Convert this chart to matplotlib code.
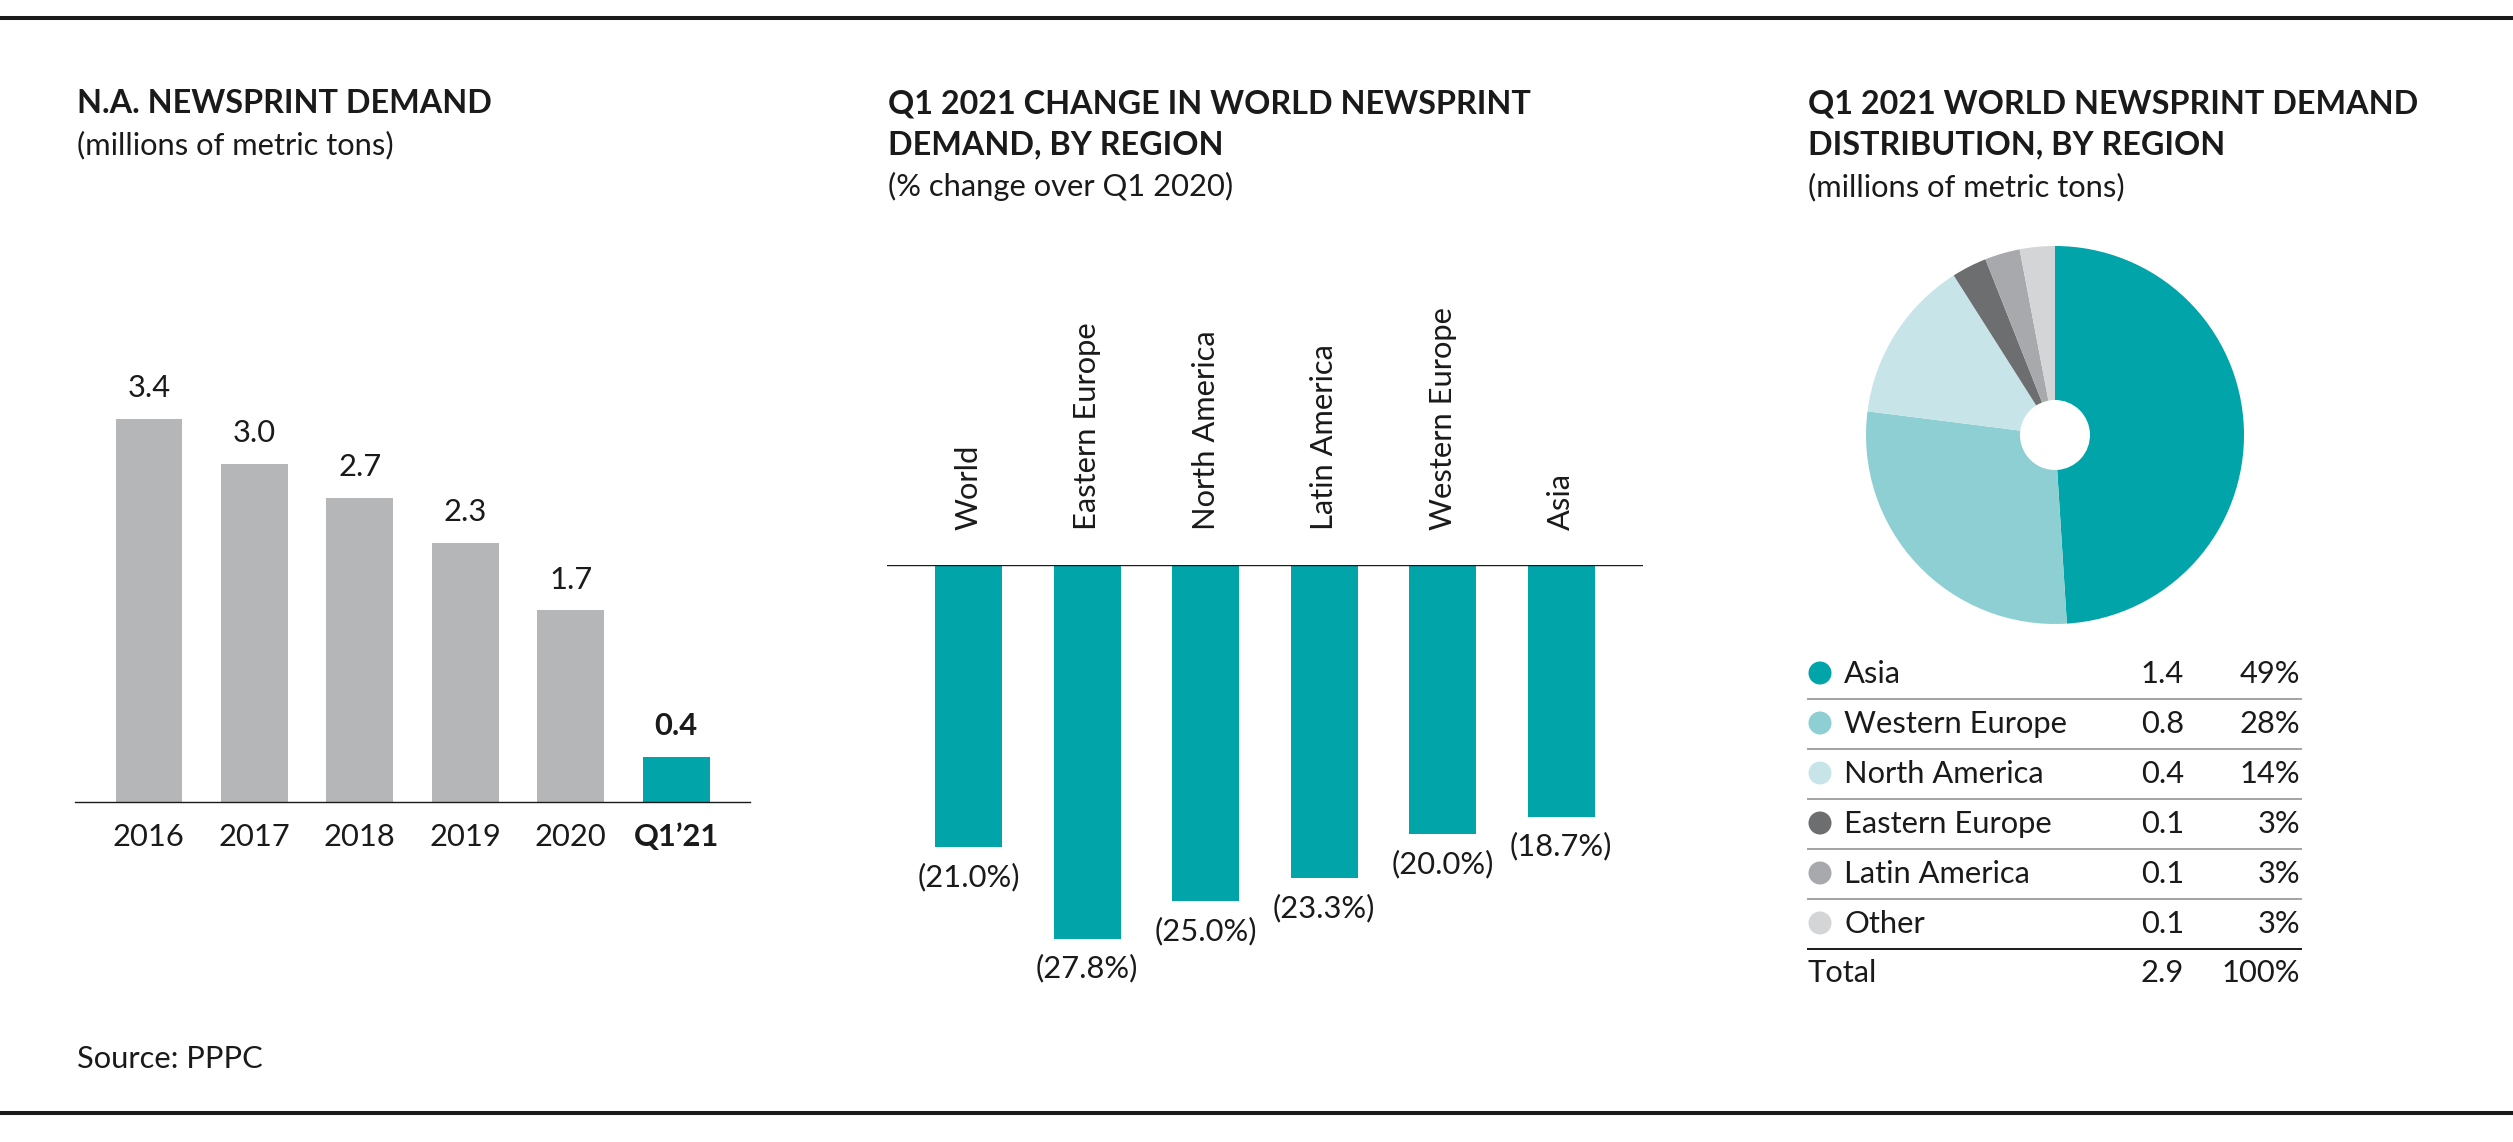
import matplotlib
matplotlib.use("Agg")
import matplotlib.pyplot as plt
from matplotlib.patches import Circle

plt.rcParams["font.family"] = ["Lato", "DejaVu Sans"]

# data
years = ["2016", "2017", "2018", "2019", "2020", "Q1\u201921"]
na_demand = [3.4, 3.0, 2.7, 2.3, 1.7, 0.4]

regions_chg = ["World", "Eastern Europe", "North America", "Latin America",
               "Western Europe", "Asia"]
pct_change = [-21.0, -27.8, -25.0, -23.3, -20.0, -18.7]

dist_regions = ["Asia", "Western Europe", "North America", "Eastern Europe",
                "Latin America", "Other"]
dist_tons = ["1.4", "0.8", "0.4", "0.1", "0.1", "0.1"]
dist_pct = [49, 28, 14, 3, 3, 3]
total_tons = "2.9"
total_pct = "100%"

TEAL = "#00A4A9"
GREY_BAR = "#B5B6B8"
TXT = "#1a1a1a"
pie_colors = [TEAL, "#8ECFD4", "#C7E5E9", "#6D6E70", "#A7A9AC", "#D4D5D6"]

W, H = 2513, 1142
fig = plt.figure(figsize=(W / 100, H / 100), dpi=100)


def box(left, top, right, bottom):
    return [left / W, 1 - bottom / H, (right - left) / W, (bottom - top) / H]


# overlay in pixel coordinates for rules, titles and table
ov = fig.add_axes([0, 0, 1, 1])
ov.set_xlim(0, W)
ov.set_ylim(H, 0)
ov.axis("off")

ov.plot([0, W], [18, 18], color=TXT, lw=2.9, solid_capstyle="butt")
ov.plot([0, W], [1113, 1113], color=TXT, lw=2.9, solid_capstyle="butt")

tfs = 23.3
sfs = 22.2
ov.text(77, 113, "N.A. NEWSPRINT DEMAND", fontsize=tfs, fontweight="bold", color=TXT)
ov.text(77, 154, "(millions of metric tons)", fontsize=sfs, color=TXT)

ov.text(888, 113, "Q1 2021 CHANGE IN WORLD NEWSPRINT", fontsize=tfs, fontweight="bold", color=TXT)
ov.text(888, 154, "DEMAND, BY REGION", fontsize=tfs, fontweight="bold", color=TXT)
ov.text(888, 196, "(% change over Q1 2020)", fontsize=sfs, color=TXT)

ov.text(1808, 113, "Q1 2021 WORLD NEWSPRINT DEMAND", fontsize=tfs, fontweight="bold", color=TXT)
ov.text(1808, 154, "DISTRIBUTION, BY REGION", fontsize=tfs, fontweight="bold", color=TXT)
ov.text(1808, 196, "(millions of metric tons)", fontsize=sfs, color=TXT)

ov.text(77, 1068, "Source: PPPC", fontsize=sfs, color=TXT)

# --- left: N.A. demand bars
ax1 = fig.add_axes(box(75, 802 - 4.0 * 112.7, 750, 802))
ax1.set_facecolor("none")
xs = range(len(years))
cols = [GREY_BAR] * (len(years) - 1) + [TEAL]
ax1.bar(xs, na_demand, width=0.632, color=cols)
ax1.set_xlim(-0.70, 5.70)
ax1.set_ylim(0, 4.0)
for s in ["top", "right", "left"]:
    ax1.spines[s].set_visible(False)
ax1.spines["bottom"].set_linewidth(1.0)
ax1.spines["bottom"].set_color(TXT)
ax1.set_yticks([])
ax1.set_xticks(list(xs))
ax1.set_xticklabels(years, fontsize=sfs, color=TXT)
ax1.tick_params(axis="x", length=0, pad=15)
ax1.get_xticklabels()[-1].set_fontweight("bold")
for i, v in enumerate(na_demand):
    ax1.annotate(f"{v:.1f}", (i, v), xytext=(0, 12), textcoords="offset points",
                 ha="center", va="bottom", fontsize=sfs, color=TXT,
                 fontweight="bold" if i == len(na_demand) - 1 else "normal")

# --- middle: % change bars
ax2 = fig.add_axes(box(887, 565, 1643, 565 + 32 * 13.45))
ax2.set_facecolor("none")
xr = range(len(regions_chg))
ax2.bar(xr, pct_change, width=0.563, color=TEAL)
ax2.set_xlim(-0.69, 5.69)
ax2.set_ylim(-32, 0)
ax2.axis("off")
ax2.axhline(0, color=TXT, lw=1.0)
for i, (name, v) in enumerate(zip(regions_chg, pct_change)):
    ax2.annotate(name, (i, 0), xytext=(0, 25), textcoords="offset points",
                 rotation=90, ha="center", va="bottom", fontsize=sfs, color=TXT,
                 annotation_clip=False)
    ax2.annotate(f"({abs(v):.1f}%)", (i, v), xytext=(0, -11), textcoords="offset points",
                 ha="center", va="top", fontsize=sfs, color=TXT, annotation_clip=False)

# --- right: distribution donut
ax3 = fig.add_axes(box(1855, 235, 2255, 635))
ax3.set_facecolor("none")
ax3.pie(dist_pct, colors=pie_colors, startangle=90, counterclock=False,
        radius=189, wedgeprops=dict(width=154, linewidth=0))
ax3.set_xlim(-200, 200)
ax3.set_ylim(-200, 200)
ax3.set_aspect("equal")
ax3.axis("off")

# table below donut
for i, (name, t, p) in enumerate(zip(dist_regions, dist_tons, dist_pct)):
    yb = 683 + i * 50
    ov.add_patch(Circle((1820, yb - 10), 11.5, color=pie_colors[i], lw=0))
    ov.text(1844, yb, name, fontsize=sfs, color=TXT)
    ov.text(2184, yb, t, fontsize=sfs, color=TXT, ha="right")
    ov.text(2300, yb, f"{p}%", fontsize=sfs, color=TXT, ha="right")
    last = i == len(dist_regions) - 1
    ov.plot([1807, 2302], [yb + 16, yb + 16], color=TXT if last else "#8a8a8a",
            lw=1.4 if last else 1.1, solid_capstyle="butt")
ov.text(1808, 982, "Total", fontsize=sfs, color=TXT)
ov.text(2184, 982, total_tons, fontsize=sfs, color=TXT, ha="right")
ov.text(2300, 982, total_pct, fontsize=sfs, color=TXT, ha="right")

fig.savefig("out.png", dpi=100)
